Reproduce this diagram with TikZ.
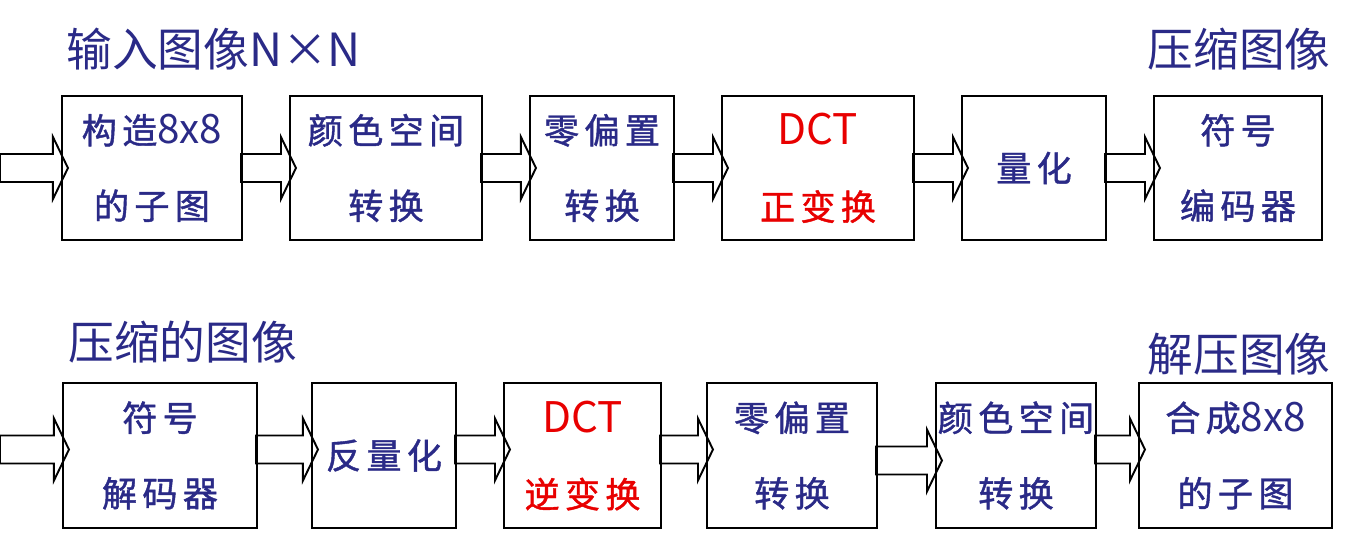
\documentclass[tikz,border=0pt]{standalone}
\usepackage{fontspec}
\setmainfont{Noto Sans CJK SC}
\newfontfamily\boxfont{Noto Sans CJK SC}[LetterSpace=15,FakeBold=1.2]
\usetikzlibrary{calc}

\definecolor{navy}{RGB}{42,42,135}
\definecolor{dctred}{RGB}{232,0,0}

\newcommand{\dcttext}[1]{{\rmfamily\fontsize{24}{43}\selectfont #1}}
\newcommand{\numtext}[1]{{\rmfamily\fontsize{23}{43}\selectfont #1}}
\newcommand{\blockarrow}[3][0]{%
  \coordinate (s) at ($(#2)+(-2,#1)$);
  \coordinate (t) at ($(#3)+(7,#1)$);
  \draw[arrowline] ($(s)+(0,-14)$) -- ($(t)+(-15,-14)$) -- ($(t)+(-15,-31)$) -- (t)
    -- ($(t)+(-15,31)$) -- ($(t)+(-15,14)$) -- ($(s)+(0,14)$) -- cycle;}

\tikzset{
  box/.style={draw, line width=1.2pt, inner sep=0pt, align=center, text=navy,
    font=\boxfont\fontsize{20}{43}\selectfont},
  boxtop/.style={box, minimum height=2.88cm},
  boxbot/.style={box, minimum height=2.9cm},
  arrowline/.style={line width=1.1pt},
  title/.style={text=navy, inner sep=0pt, font=\fontsize{26}{30}\selectfont}
}

\begin{document}
\begin{tikzpicture}[x=0.02cm,y=-0.02cm]
\useasboundingbox (0,0) rectangle (1356,545);

\node[title, anchor=west] (tin) at (66,49) {输入图像N×N};
\node[title, anchor=east] (tout) at (1331,49) {压缩图像};
\node[title, anchor=west] (bin) at (68,342) {压缩的图像};
\node[title, anchor=east] (bout) at (1331,354) {解压图像};

\node[boxtop, minimum width=3.6cm] (b1) at (152,168) {构造\numtext{8x8}\\的子图};
\node[boxtop, minimum width=3.84cm] (b2) at (386,168) {颜色空间\\转换};
\node[boxtop, minimum width=2.88cm] (b3) at (602,168) {零偏置\\转换};
\node[boxtop, minimum width=3.84cm, text=dctred] (b4) at (818,168) {\dcttext{DCT}\\正变换};
\node[boxtop, minimum width=2.88cm] (b5) at (1034,168) {量化};
\node[boxtop, minimum width=3.36cm] (b6) at (1238,168) {符号\\编码器};

\node[boxbot, minimum width=3.88cm] (c1) at (160,455.5) {符号\\解码器};
\node[boxbot, minimum width=2.88cm] (c2) at (384,455.5) {反量化};
\node[boxbot, minimum width=3.14cm, text=dctred] (c3) at (582.5,455.5) {\dcttext{DCT}\\逆变换};
\node[boxbot, minimum width=3.4cm] (c4) at (792,455.5) {零偏置\\转换};
\node[boxbot, minimum width=3.2cm] (c5) at (1016,455.5) {颜色空间\\转换};
\node[boxbot, minimum width=3.86cm] (c6) at (1235.5,455.5) {合成\numtext{8x8}\\的子图};

\coordinate (bstart) at (2,168);
\coordinate (cstart) at (2,455.5);

\blockarrow{bstart}{b1.west}
\blockarrow{b1.east}{b2.west}
\blockarrow{b2.east}{b3.west}
\blockarrow{b3.east}{b4.west}
\blockarrow{b4.east}{b5.west}
\blockarrow{b5.east}{b6.west}

\blockarrow[-6]{cstart}{c1.west}
\blockarrow[-6]{c1.east}{c2.west}
\blockarrow[-6]{c2.east}{c3.west}
\blockarrow[-6]{c3.east}{c4.west}
\blockarrow[5]{c4.east}{c5.west}
\blockarrow[-6]{c5.east}{c6.west}
\end{tikzpicture}
\end{document}
